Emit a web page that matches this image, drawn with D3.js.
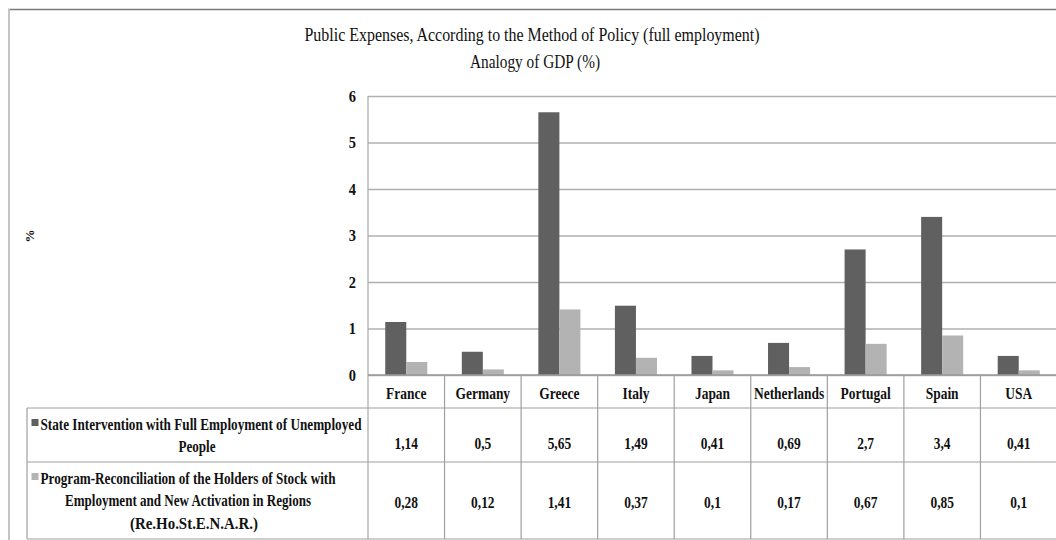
<!DOCTYPE html>
<html><head><meta charset="utf-8">
<script src="https://cdn.jsdelivr.net/npm/d3@7"></script>
<style>
html,body{margin:0;padding:0;background:#fff;}
svg{display:block;}
text{font-family:"Liberation Serif","Times New Roman",serif;fill:#111;}
</style></head>
<body>
<svg id="chart" width="1056" height="540"></svg>
<script>
const categories = ["France","Germany","Greece","Italy","Japan","Netherlands","Portugal","Spain","USA"];
const seriesNames = [
  ["State Intervention with Full Employment of Unemployed","People"],
  ["Program-Reconciliation of the Holders of Stock with","Employment and New Activation in Regions","(Re.Ho.St.E.N.A.R.)"]
];
const stateIntervention = [1.14,0.5,5.65,1.49,0.41,0.69,2.7,3.4,0.41];
const programReconciliation = [0.28,0.12,1.41,0.37,0.1,0.17,0.67,0.85,0.1];
const yTicks = [0,1,2,3,4,5,6];
const titleLines = ["Public Expenses, According to the Method of Policy (full employment)","Analogy of GDP (%)"];
const yLabel = "%";

const series = [stateIntervention, programReconciliation];
const colors = ["#606060","#b3b3b3"];
const fmt = v => String(v).replace(".", ",");

const svg = d3.select("#chart");
const L = 368, R = 1057, T = 96, B = 375;
const tableLeft = 27, rowLines = [375, 408, 462, 539];

function condense(sel, f) {
  sel.each(function() {
    const w = this.getComputedTextLength();
    d3.select(this).attr("textLength", w * f).attr("lengthAdjust", "spacingAndGlyphs");
  });
}

// outer frame
svg.append("line").attr("x1",8).attr("x2",1056).attr("y1",9.5).attr("y2",9.5).attr("stroke","#7a7a7a").attr("stroke-width",1.5);
svg.append("line").attr("x1",9).attr("x2",9).attr("y1",9).attr("y2",540).attr("stroke","#c4c4c4").attr("stroke-width",2);

// title
svg.append("text").attr("x",532).attr("y",41).attr("text-anchor","middle").attr("font-size",19)
  .attr("textLength",455).attr("lengthAdjust","spacingAndGlyphs").text(titleLines[0]);
svg.append("text").attr("x",535).attr("y",68).attr("text-anchor","middle").attr("font-size",19)
  .attr("textLength",130).attr("lengthAdjust","spacingAndGlyphs").text(titleLines[1]);

// y label
svg.append("text").attr("transform","translate(34,236) rotate(-90)").attr("text-anchor","middle")
  .attr("font-size",13).attr("font-weight","bold").attr("fill","#444").text(yLabel);

const y = d3.scaleLinear().domain([0,6]).range([B,T]);
const x0 = d3.scaleBand().domain(categories).range([L,R]).padding(0);
const x1 = d3.scaleBand().domain([0,1]).range([0,x0.bandwidth()]).paddingInner(0).paddingOuter(0.82);

// gridlines
const grid = svg.append("g").attr("transform",`translate(${L},0)`)
  .call(d3.axisLeft(y).tickValues(yTicks).tickSize(-(R-L)).tickFormat(""));
grid.select(".domain").remove();
grid.selectAll("line").attr("stroke","#b0b0b0").attr("stroke-width",1.5);

// y axis labels
const ya = svg.append("g").attr("transform",`translate(${L},0)`)
  .call(d3.axisLeft(y).tickValues(yTicks).tickSize(0).tickPadding(12).tickFormat(d3.format("d")));
ya.select(".domain").remove();
ya.selectAll("text").attr("font-size",17).attr("font-weight","bold")
  .attr("font-family","Liberation Serif, serif").attr("fill","#111");
condense(ya.selectAll("text"), 0.85);

// left plot line
svg.append("line").attr("x1",L).attr("x2",L).attr("y1",T).attr("y2",rowLines[3]).attr("stroke","#a8a8a8").attr("stroke-width",1.2);

// bars
const groups = svg.append("g").selectAll("g").data(categories).join("g")
  .attr("transform", d => `translate(${x0(d)},0)`);
groups.selectAll("rect").data((d,i) => series.map((s,k)=>({k, v:s[i]}))).join("rect")
  .attr("x", d => x1(d.k)).attr("width", x1.bandwidth())
  .attr("y", d => y(d.v)).attr("height", d => y(0)-y(d.v))
  .attr("fill", d => colors[d.k]);

// table lines
const tg = svg.append("g").attr("stroke","#a0a0a0").attr("stroke-width",1.2);
tg.append("line").attr("x1",L).attr("x2",R).attr("y1",rowLines[0]).attr("y2",rowLines[0]).attr("stroke","#999").attr("stroke-width",1.5);
rowLines.slice(1).forEach(yy => tg.append("line").attr("x1",tableLeft).attr("x2",R).attr("y1",yy).attr("y2",yy));
tg.append("line").attr("x1",tableLeft).attr("x2",tableLeft).attr("y1",rowLines[1]).attr("y2",rowLines[3]);
categories.slice(1).forEach(c => tg.append("line").attr("x1",x0(c)).attr("x2",x0(c)).attr("y1",rowLines[0]).attr("y2",rowLines[3]));

// category labels
const cl = svg.append("g").selectAll("text").data(categories).join("text")
  .attr("x", d => x0(d)+x0.bandwidth()/2).attr("y",399).attr("text-anchor","middle")
  .attr("font-size",16).attr("font-weight","bold").text(d => d);
condense(cl, 0.84);

// values
const valueY = [449, 508];
series.forEach((s,k) => {
  const vt = svg.append("g").selectAll("text").data(s).join("text")
    .attr("x",(d,i) => x0(categories[i])+x0.bandwidth()/2).attr("y",valueY[k]).attr("text-anchor","middle")
    .attr("font-size",16).attr("font-weight","bold").text(d => fmt(d));
  condense(vt, 0.84);
});

// legend cells
const legendLines = [
  [{t:seriesNames[0][0], x:201, y:430, w:321},{t:seriesNames[0][1], x:197, y:452, w:37}],
  [{t:seriesNames[1][0], x:188, y:484, w:295},{t:seriesNames[1][1], x:188, y:506, w:246},{t:seriesNames[1][2], x:194, y:529, w:128}]
];
legendLines.forEach((lines,k) => {
  lines.forEach((ln,j) => {
    svg.append("text").attr("x",ln.x).attr("y",ln.y).attr("text-anchor","middle")
      .attr("font-size",16).attr("font-weight","bold")
      .attr("textLength",ln.w).attr("lengthAdjust","spacingAndGlyphs").text(ln.t);
    if (j===0) {
      svg.append("rect").attr("x",ln.x-ln.w/2-9).attr("y",ln.y-11).attr("width",7).attr("height",7).attr("fill",colors[k]);
    }
  });
});
</script>
</body></html>
